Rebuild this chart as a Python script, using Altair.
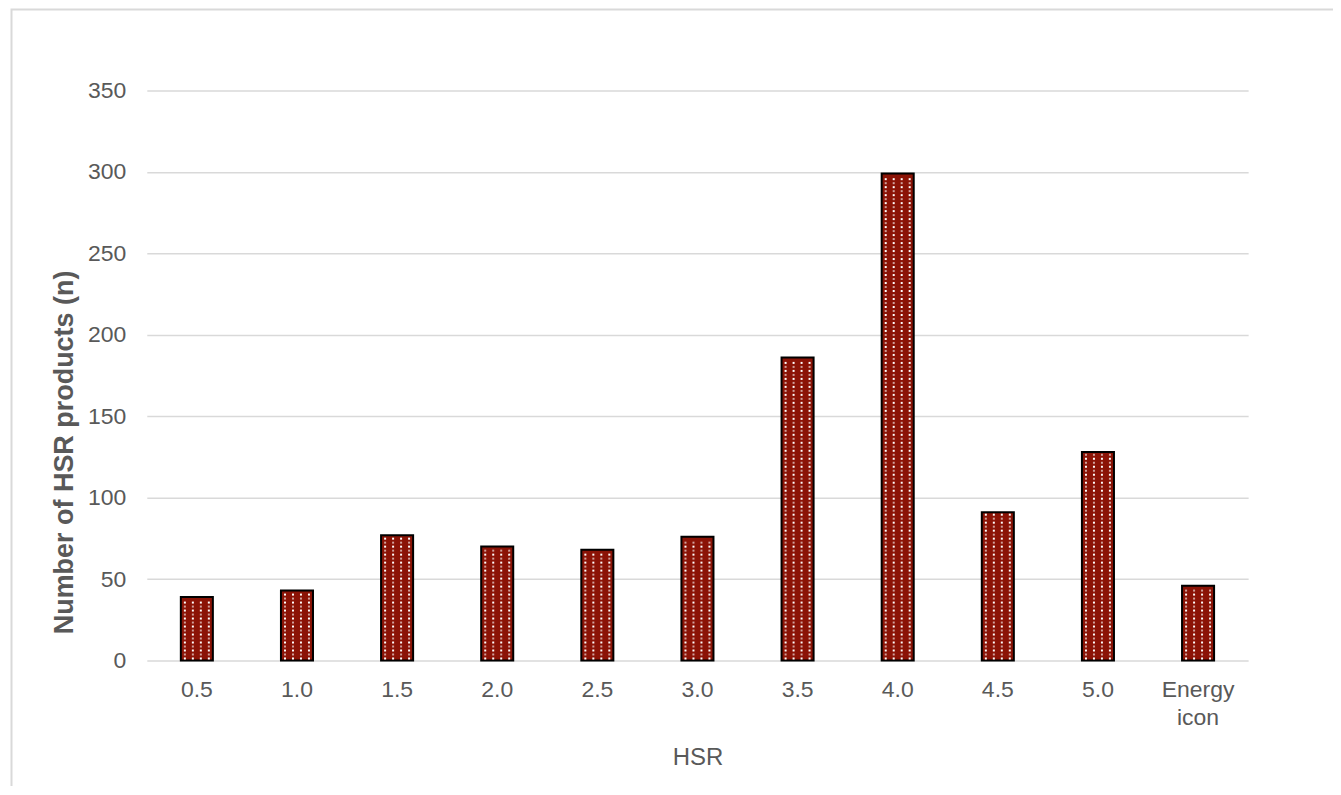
import altair as alt
import pandas as pd

categories = ["0.5", "1.0", "1.5", "2.0", "2.5", "3.0", "3.5", "4.0", "4.5", "5.0", "Energy icon"]
counts = [39, 43, 77, 70, 68, 76, 186, 299, 91, 128, 46]
y_ticks = [0, 50, 100, 150, 200, 250, 300, 350]

df = pd.DataFrame({"hsr": categories, "n": counts})

FONT = "Liberation Sans"
TXT = "#595959"
GRID = "#d9d9d9"
BAR = "#8B1306"

x_scale = alt.Scale(domain=categories, paddingInner=0.68, paddingOuter=0.34)
y_scale = alt.Scale(domain=[0, 350], nice=False)

base = alt.Chart(df)

bars = base.mark_bar(fill=BAR, stroke="black", strokeWidth=2).encode(
    x=alt.X("hsr:N", sort=categories, scale=x_scale,
            axis=alt.Axis(title="HSR", labelAngle=0, domain=False, ticks=False,
                          labelExpr="split(datum.label, ' ')",
                          labelBaseline="alphabetic", labelPadding=36,
                          labelLineHeight=28,
                          titleY=104, titleBaseline="alphabetic",
                          titleFontSize=24, titleFontWeight="normal")),
    y=alt.Y("n:Q", scale=y_scale,
            axis=alt.Axis(title="Number of HSR products (n)", values=y_ticks,
                          domain=False, ticks=False, grid=True,
                          gridColor=GRID, gridWidth=1.5, labelPadding=21,
                          titleFontWeight="bold", titleFontSize=27,
                          titleX=-82, titleY=362, titleBaseline="middle",
                          titleAlign="center")),
)

# white dot texture derived from each bar's own value
dot_layers = []
for dx in [-12, -4, 4, 12]:
    dot_layers.append(
        base.transform_calculate(ys="sequence(1.3, datum.n - 1.2, 2.452)")
        .transform_flatten(["ys"])
        .transform_calculate(r="round((datum.ys - 1.3) / 2.452) % 2")
        .mark_square(color="white", size=4, xOffset=dx)
        .encode(
            x=alt.X("hsr:N", sort=categories, scale=x_scale, title="HSR"),
            y=alt.Y("ys:Q", scale=y_scale, title="Number of HSR products (n)"),
            opacity=alt.condition("datum.r == 0", alt.value(1.0), alt.value(0.6)),
        )
    )

frame = alt.Chart(alt.Data(values=[{}])).mark_rect(
    fill="transparent", stroke=GRID, strokeWidth=2
).encode(
    x=alt.value(-135.5), x2=alt.value(1400),
    y=alt.value(-81), y2=alt.value(900),
)

chart = alt.layer(frame, bars, *dot_layers).properties(
    width=1103, height=571,
    autosize=alt.AutoSizeParams(type="none"),
    padding={"left": 139, "top": 82, "right": 85, "bottom": 125},
).configure_view(stroke=None).configure_axis(
    labelFont=FONT, titleFont=FONT, labelFontSize=23,
    labelColor=TXT, titleColor=TXT,
)

chart.save("out.html", embed_options={"renderer": "svg", "actions": False})
